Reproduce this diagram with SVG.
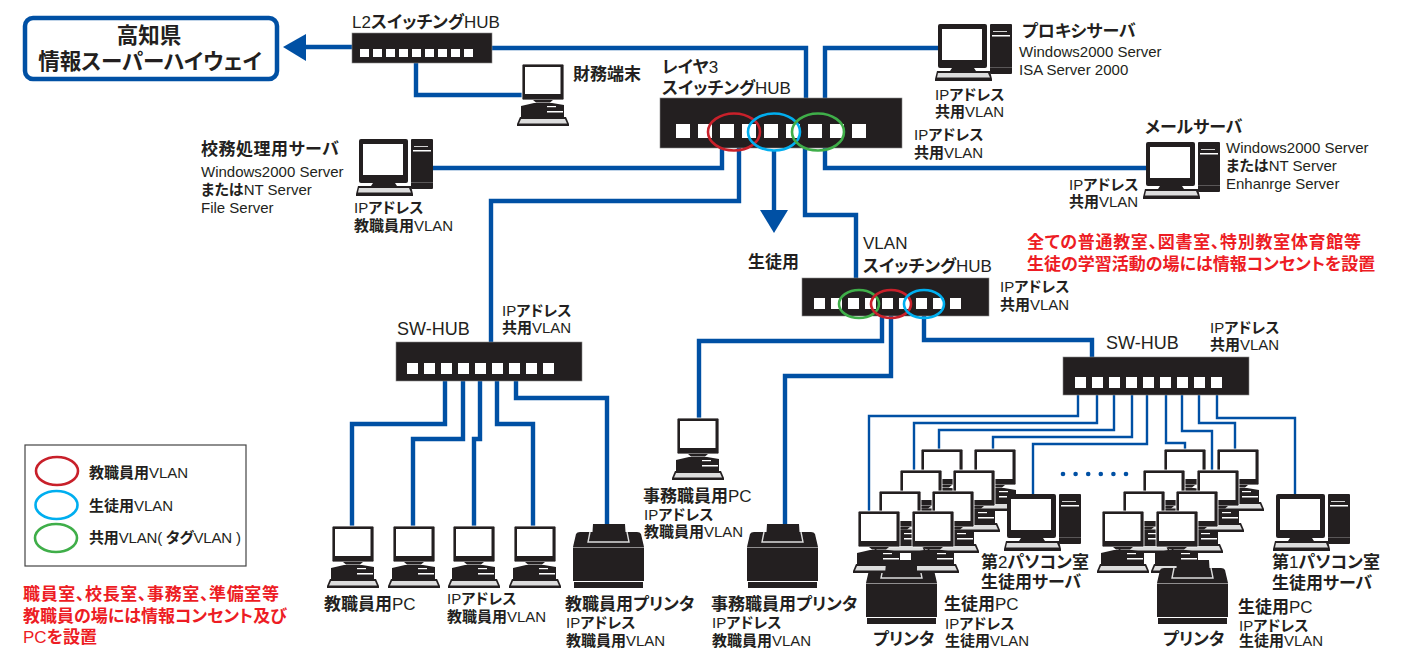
<svg xmlns="http://www.w3.org/2000/svg" width="1406" height="649" viewBox="0 0 1406 649">
<style>
text{font-family:"Liberation Sans","Noto Sans CJK JP",sans-serif;font-size:15px;fill:#231f20;font-feature-settings:"palt";white-space:pre}
.b{font-weight:700}
.m{font-size:17px}
.s{font-size:18px}
.l{font-size:17px}
.h{font-size:21.5px;font-weight:700}
.r{fill:#ed1c24;font-size:17px;font-weight:700}
.d{fill:#231f20}
.w{fill:#fff}
.hub{fill:#231f20;stroke:#8a8a8a;stroke-width:.6}
.c{fill:none;stroke:#0050a4;stroke-width:4.4}
.n{fill:none;stroke:#0050a4;stroke-width:2.4}
.a{fill:#0050a4}
.er,.eb,.eg{fill:none;stroke-width:2.6}
.er{stroke:#c8202a}.eb{stroke:#00aeef}.eg{stroke:#3fae49}
</style>
<defs>
<g id="pc">
<rect x="0" y="0" width="42" height="36" rx="1.5" class="d" stroke="#fff" stroke-width=".8"/>
<rect x="3" y="3" width="35.5" height="27" class="w"/>
<path class="d" d="M11 36H31L28 38.5H14Z"/>
<path class="d" d="M-1 42L12 39H30L42 41V54H-1Z"/>
<rect class="w" x="25" y="42" width="9" height="1.2"/><rect class="w" x="25" y="47" width="16" height="1.5"/>
<path class="d" d="M-2 53H44L47 60V62H-5V60Z"/>
<path fill="#ddd" d="M-1 55H43L45 59.5H-3Z"/>
</g>
<g id="srv">
<rect x="0" y="0" width="49" height="44" rx="2" class="d"/>
<rect x="4" y="5" width="40" height="31" class="w"/>
<path class="d" d="M14 44H36L38 47H12Z"/>
<path class="d" d="M-1 47H52L54 55V57H-3V55Z"/>
<path fill="#ddd" d="M0 49H50L52 53.5H-1Z"/>
<rect x="52" y="0" width="22" height="50" rx="1" class="d"/>
<rect class="w" x="55" y="7" width="14" height=".8"/>
<rect class="w" x="54" y="11" width="18" height="1.5"/>
<rect class="w" x="52" y="43" width="22" height=".5" opacity=".5"/>
</g>
<g id="prn">
<path class="d" d="M0 23L3 10Q4 8 7 8H64Q67 8 68 10L71 23Z"/>
<path fill="none" stroke="#ddd" stroke-width="1.4" d="M17 8L15 18H56L54 8"/>
<path class="d" d="M20 0H52L53 16H19Z"/>
<rect class="d" x="0" y="23.500" width="71" height="33.500"/>
<rect class="d" x="1" y="58" width="69" height="6"/>
</g>
<g id="s11"><rect class="w" x="0" width="11" height="11"/><rect class="w" x="17" width="11" height="11"/><rect class="w" x="34" width="11" height="11"/><rect class="w" x="51" width="11" height="11"/><rect class="w" x="68" width="11" height="11"/><rect class="w" x="85" width="11" height="11"/><rect class="w" x="102" width="11" height="11"/><rect class="w" x="119" width="11" height="11"/><rect class="w" x="136" width="11" height="11"/></g>
</defs>
<g id="connectors">
<path class="c" d="M352 47H304"/><polygon class="a" points="283,47 306,34 306,61"/>
<path class="c" d="M492 48H806V113"/>
<path class="c" d="M416 63V95H524"/>
<path class="c" d="M825 113V48H940"/>
<path class="c" d="M722 148V168H433"/>
<path class="c" d="M739 148V201H491V342"/>
<path class="c" d="M774 150V212"/><polygon class="a" points="760,210 788,210 774,233"/>
<path class="c" d="M805 148V215H856V290"/>
<path class="c" d="M825 148V168H1147"/>
<path class="c" d="M882 316V341H699V418"/>
<path class="c" d="M891 316V376H785V525"/>
<path class="c" d="M924 316V340H1092V357"/>
<path class="c" d="M445 381V424H352V526"/>
<path class="c" d="M463 381V439H413V526"/>
<path class="c" d="M480 381V439H474V526"/>
<path class="c" d="M497 381V424H533V526"/>
<path class="c" d="M516 381V398H607V524"/>
<path class="n" d="M869 511V416H1078V395"/>
<path class="n" d="M914 470V423H1097V395"/>
<path class="n" d="M939 449V430H1114V395"/>
<path class="n" d="M993 449V437H1132V395"/>
<path class="n" d="M1033 494V444H1147V395"/>
<path class="n" d="M1166 395V443H1185V449"/>
<path class="n" d="M1182 395V431H1212V470"/>
<path class="n" d="M1199 395V423H1235V449"/>
<path class="n" d="M1217 395V418H1295V494"/>
</g>
<g id="highway">
<rect x="25" y="18" width="252" height="61" rx="8" fill="#fff" stroke="#0050a4" stroke-width="4.500"/>
<text class="h" x="149" y="43" text-anchor="middle">高知県</text>
<text class="h" x="150" y="69" text-anchor="middle">情報スーパーハイウェイ</text>
</g>
<g id="l2-hub">
<rect class="hub" x="352" y="33" width="140" height="30"/>
<g fill="#fff"><rect x="360" y="49" width="9" height="8"/><rect x="373" y="49" width="9" height="8"/><rect x="386" y="49" width="9" height="8"/><rect x="399" y="49" width="9" height="8"/><rect x="412" y="49" width="9" height="8"/><rect x="425" y="49" width="9" height="8"/><rect x="438" y="49" width="9" height="8"/><rect x="451" y="49" width="9" height="8"/><rect x="464" y="49" width="9" height="8"/></g>
<text class="m" x="352" y="28">L2<tspan class="b">スイッチング</tspan>HUB</text>
</g>
<g id="finance-pc"><use href="#pc" x="522" y="64"/><text class="l b" x="573" y="80">財務端末</text></g>
<g id="l3-hub">
<rect class="hub" x="660" y="98" width="242" height="50"/>
<g fill="#fff"><rect x="676" y="124" width="14" height="14"/><rect x="698" y="124" width="14" height="14"/><rect x="720" y="124" width="14" height="14"/><rect x="742" y="124" width="14" height="14"/><rect x="764" y="124" width="14" height="14"/><rect x="786" y="124" width="14" height="14"/><rect x="808" y="124" width="14" height="14"/><rect x="830" y="124" width="14" height="14"/><rect x="852" y="124" width="14" height="14"/></g>
<ellipse class="er" cx="734" cy="132" rx="26" ry="18.500"/><ellipse class="eb" cx="774" cy="132" rx="26" ry="18.500"/><ellipse class="eg" cx="818" cy="132" rx="26" ry="18.500"/>
<text class="m" x="662" y="73"><tspan class="b">レイヤ</tspan>3</text>
<text class="m" x="662" y="94"><tspan class="b">スイッチング</tspan>HUB</text>
<text x="914" y="140">IP<tspan class="b">アドレス</tspan></text>
<text x="914" y="158"><tspan class="b">共用</tspan>VLAN</text>
</g>
<g id="school-server"><use href="#srv" x="359" y="139"/>
<text class="l b" x="201" y="155" textLength="138">校務処理用サーバ</text>
<text x="201" y="177">Windows2000 Server</text>
<text x="201" y="195"><tspan class="b">または</tspan>NT Server</text>
<text x="201" y="213">File Server</text>
<text x="354" y="213">IP<tspan class="b">アドレス</tspan></text>
<text x="354" y="231"><tspan class="b">教職員用</tspan>VLAN</text></g>
<g id="proxy-server"><use href="#srv" x="938" y="24"/>
<text class="l b" x="1022" y="37">プロキシサーバ</text>
<text x="1019" y="57">Windows2000 Server</text>
<text x="1019" y="75">ISA Server 2000</text>
<text x="935" y="100">IP<tspan class="b">アドレス</tspan></text>
<text x="935" y="117"><tspan class="b">共用</tspan>VLAN</text></g>
<g id="mail-server"><use href="#srv" x="1146" y="142"/>
<text class="l b" x="1145" y="133">メールサーバ</text>
<text x="1226" y="153">Windows2000 Server</text>
<text x="1226" y="171"><tspan class="b">または</tspan>NT Server</text>
<text x="1226" y="189">Enhanrge Server</text>
<text x="1069" y="190">IP<tspan class="b">アドレス</tspan></text>
<text x="1069" y="207"><tspan class="b">共用</tspan>VLAN</text></g>
<g id="student-arrow-label"><text class="l b" x="748" y="268">生徒用</text></g>
<g id="note-students">
<text class="r" x="1027" y="248" textLength="334">全ての普通教室、図書室、特別教室体育館等</text>
<text class="r" x="1027" y="270">生徒の学習活動の場には情報コンセントを設置</text>
</g>
<g id="vlan-hub">
<rect class="hub" x="802" y="278" width="187" height="38"/>
<use href="#s11" x="814" y="298"/>
<ellipse class="eg" cx="859" cy="304" rx="20" ry="14"/><ellipse class="er" cx="891" cy="304" rx="20" ry="14"/><ellipse class="eb" cx="924" cy="304" rx="20" ry="14"/>
<text class="m" x="863" y="249">VLAN</text>
<text class="m" x="863" y="272"><tspan class="b">スイッチング</tspan>HUB</text>
<text x="1000" y="292">IP<tspan class="b">アドレス</tspan></text>
<text x="1000" y="310"><tspan class="b">共用</tspan>VLAN</text>
</g>
<g id="sw-hub-1">
<rect class="hub" x="396" y="342" width="186" height="39"/>
<use href="#s11" x="407" y="363"/>
<text class="s" x="397" y="335">SW-HUB</text>
<text x="502" y="316">IP<tspan class="b">アドレス</tspan></text>
<text x="502" y="333"><tspan class="b">共用</tspan>VLAN</text>
</g>
<g id="sw-hub-2">
<rect class="hub" x="1063" y="357" width="186" height="38"/>
<use href="#s11" x="1075" y="377"/>
<text class="s" x="1106" y="349">SW-HUB</text>
<text x="1210" y="333">IP<tspan class="b">アドレス</tspan></text>
<text x="1210" y="350"><tspan class="b">共用</tspan>VLAN</text>
</g>
<g id="teacher-pcs">
<use href="#pc" x="332" y="526"/><use href="#pc" x="393" y="526"/><use href="#pc" x="453" y="526"/><use href="#pc" x="514" y="526"/>
<text class="l" x="324" y="610"><tspan class="b">教職員用</tspan>PC</text>
<text x="447" y="604">IP<tspan class="b">アドレス</tspan></text>
<text x="447" y="622"><tspan class="b">教職員用</tspan>VLAN</text>
</g>
<g id="teacher-printer"><use href="#prn" x="573" y="524"/>
<text class="l b" x="565" y="610">教職員用プリンタ</text>
<text x="566" y="628">IP<tspan class="b">アドレス</tspan></text>
<text x="566" y="646"><tspan class="b">教職員用</tspan>VLAN</text></g>
<g id="office-pc"><use href="#pc" x="677" y="418"/>
<text class="l" x="643" y="502"><tspan class="b">事務職員用</tspan>PC</text>
<text x="644" y="520">IP<tspan class="b">アドレス</tspan></text>
<text x="644" y="537"><tspan class="b">教職員用</tspan>VLAN</text></g>
<g id="office-printer"><use href="#prn" x="747" y="524"/>
<text class="l b" x="711" y="610">事務職員用プリンタ</text>
<text x="712" y="628">IP<tspan class="b">アドレス</tspan></text>
<text x="712" y="646"><tspan class="b">教職員用</tspan>VLAN</text></g>
<g id="lab-2">
<use href="#pc" x="921" y="449"/><use href="#pc" x="974" y="449"/>
<use href="#pc" x="900" y="470"/><use href="#pc" x="953" y="470"/>
<use href="#pc" x="879" y="491"/><use href="#pc" x="932" y="491"/>
<use href="#prn" x="866" y="560"/>
<use href="#pc" x="858" y="511"/><use href="#pc" x="912" y="511"/>
<path class="d" d="M886 561H917V576H885Z"/>
<text class="l b" x="873" y="645">プリンタ</text>
<text class="l" x="944" y="610"><tspan class="b">生徒用</tspan>PC</text>
<text x="945" y="629">IP<tspan class="b">アドレス</tspan></text>
<text x="945" y="646"><tspan class="b">生徒用</tspan>VLAN</text>
</g>
<g id="lab-2-server"><use href="#srv" x="1007" y="494"/>
<text class="l" x="981" y="568"><tspan class="b">第</tspan>2<tspan class="b">パソコン室</tspan></text>
<text class="l b" x="981" y="588">生徒用サーバ</text></g>
<g id="dots" class="a"><circle cx="1063" cy="474" r="2.300"/><circle cx="1075.600" cy="474" r="2.300"/><circle cx="1088.200" cy="474" r="2.300"/><circle cx="1100.800" cy="474" r="2.300"/><circle cx="1113.400" cy="474" r="2.300"/><circle cx="1126" cy="474" r="2.300"/></g>
<g id="lab-1">
<use href="#pc" x="1164" y="449"/><use href="#pc" x="1217" y="449"/>
<use href="#pc" x="1143" y="470"/><use href="#pc" x="1197" y="470"/>
<use href="#pc" x="1123" y="491"/><use href="#pc" x="1176" y="491"/>
<use href="#pc" x="1102" y="511"/><use href="#pc" x="1156" y="511"/>
<use href="#prn" x="1157" y="560"/>
<text class="l b" x="1163" y="645">プリンタ</text>
<text class="l" x="1238" y="613"><tspan class="b">生徒用</tspan>PC</text>
<text x="1239" y="631">IP<tspan class="b">アドレス</tspan></text>
<text x="1239" y="646"><tspan class="b">生徒用</tspan>VLAN</text>
</g>
<g id="lab-1-server"><use href="#srv" x="1276" y="494"/>
<text class="l" x="1272" y="568"><tspan class="b">第</tspan>1<tspan class="b">パソコン室</tspan></text>
<text class="l b" x="1272" y="589">生徒用サーバ</text></g>
<g id="legend">
<rect x="25" y="445" width="221" height="121" fill="none" stroke="#444" stroke-width="1.200"/>
<ellipse class="er" cx="57" cy="471" rx="21" ry="14"/><ellipse class="eb" cx="56.500" cy="505" rx="21" ry="14"/><ellipse class="eg" cx="56" cy="538" rx="21" ry="14"/>
<text x="89" y="478"><tspan class="b">教職員用</tspan>VLAN</text>
<text x="89" y="511"><tspan class="b">生徒用</tspan>VLAN</text>
<text x="89" y="543" textLength="152"><tspan class="b">共用</tspan>VLAN( <tspan class="b">タグ</tspan>VLAN )</text>
</g>
<g id="note-staff">
<text class="r" x="23" y="600" textLength="256">職員室、校長室、事務室、準備室等</text>
<text class="r" x="23" y="622">教職員の場には情報コンセント及び</text>
<text class="r" x="23" y="643"><tspan font-weight="400">PC</tspan>を設置</text>
</g>
</svg>
